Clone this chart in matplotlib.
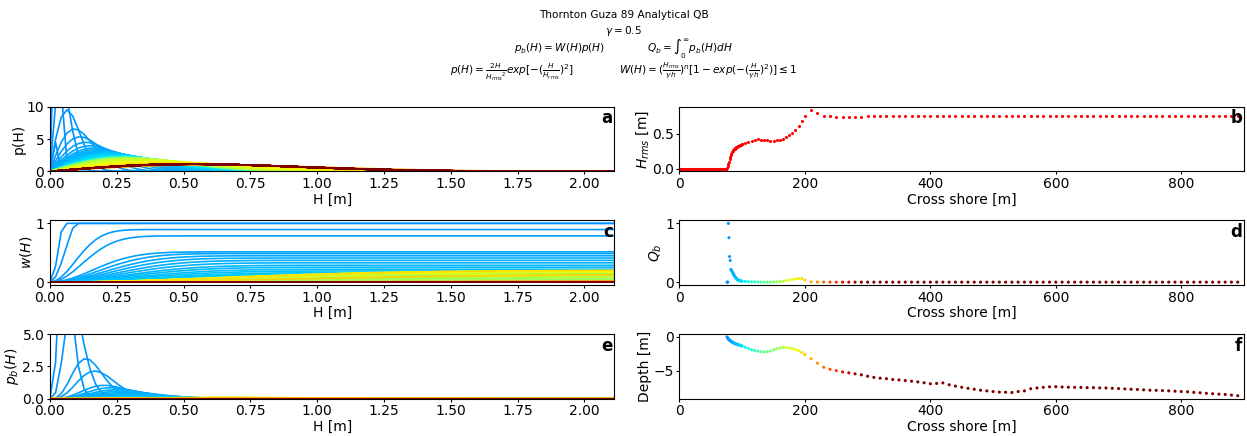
import numpy as np
import matplotlib
matplotlib.use('Agg')
import matplotlib.pyplot as plt
from matplotlib import colors
from matplotlib.ticker import MultipleLocator

gamma = 0.5
n = 4

# dry beach, no waves
x_dry = np.arange(0, 76, 1)
hrms_dry = np.zeros(len(x_dry))

# wet profile: 1 m spacing near the shoreline, 5 m over the bar, 10 m offshore
x_wet = np.concatenate([np.arange(76, 100, 1), np.arange(100, 200, 5), np.arange(200, 900, 10)])

hrms_wet = np.array([
    0.01, 0.03, 0.06, 0.09, 0.13, 0.16, 0.19, 0.215, 0.235, 0.25, 0.265, 0.275,
    0.285, 0.292, 0.30, 0.307, 0.314, 0.32, 0.325, 0.33, 0.335, 0.34, 0.345, 0.35,
    0.355, 0.37, 0.385, 0.40, 0.415, 0.42, 0.417, 0.41, 0.405, 0.40,
    0.40, 0.405, 0.415, 0.43, 0.45, 0.48, 0.51, 0.55, 0.61, 0.68,
    0.75, 0.845, 0.80, 0.76, 0.75, 0.745, 0.745, 0.745, 0.745, 0.745,
    0.75, 0.75, 0.75, 0.75, 0.75, 0.75, 0.75, 0.75, 0.75, 0.75,
    0.752, 0.752, 0.752, 0.752, 0.752, 0.752, 0.752, 0.752, 0.752, 0.752,
    0.755, 0.755, 0.755, 0.755, 0.755, 0.755, 0.755, 0.755, 0.755, 0.755,
    0.758, 0.758, 0.758, 0.758, 0.758, 0.758, 0.758, 0.758, 0.758, 0.758,
    0.758, 0.758, 0.758, 0.758, 0.758, 0.758, 0.758, 0.758, 0.758, 0.758,
    0.758, 0.758, 0.758, 0.758, 0.758, 0.758, 0.758, 0.758, 0.758, 0.758])

depth = np.array([
    -0.02, -0.2, -0.33, -0.42, -0.5, -0.58, -0.65, -0.71, -0.77, -0.83, -0.88, -0.92,
    -0.96, -1.0, -1.04, -1.08, -1.11, -1.14, -1.18, -1.21, -1.24, -1.27, -1.3, -1.33,
    -1.36, -1.55, -1.73, -1.9, -2.03, -2.13, -2.2, -2.23, -2.2, -2.1,
    -1.93, -1.77, -1.65, -1.58, -1.57, -1.63, -1.73, -1.87, -2.06, -2.3,
    -2.62, -3.24, -3.9, -4.5, -4.8, -5.0, -5.2, -5.33, -5.48, -5.63,
    -5.83, -6.0, -6.12, -6.2, -6.32, -6.38, -6.48, -6.57, -6.67, -6.8,
    -6.95, -6.9, -6.82, -7.1, -7.29, -7.47, -7.62, -7.76, -7.9, -8.0,
    -8.1, -8.18, -8.2, -8.24, -8.1, -8.0, -7.68, -7.57, -7.48, -7.4,
    -7.38, -7.43, -7.46, -7.48, -7.48, -7.52, -7.52, -7.56, -7.57, -7.62,
    -7.66, -7.71, -7.76, -7.8, -7.85, -7.9, -7.92, -7.96, -8.0, -8.05,
    -8.1, -8.14, -8.22, -8.28, -8.36, -8.42, -8.48, -8.53, -8.62, -8.72])

qb = np.array([
    0.0, 0.0, 1.0, 0.757, 0.435, 0.37, 0.215, 0.2, 0.18, 0.16, 0.14, 0.12,
    0.10, 0.085, 0.07, 0.058, 0.047, 0.04, 0.034, 0.03, 0.026, 0.023, 0.02, 0.018,
    0.015, 0.011, 0.008, 0.006, 0.004, 0.002, 0.001, 0.0, 0.0, 0.001,
    0.003, 0.006, 0.01, 0.017, 0.025, 0.035, 0.045, 0.053, 0.06, 0.063,
    0.035, 0.005, 0.002, 0.001] + [0.0] * 66)

x_all = np.concatenate([x_dry, x_wet])
hrms_all = np.concatenate([hrms_dry, hrms_wet])


def breaker_ratio(q):
    # (Hrms/gamma h)^2 that gives this Qb: s^3 - q s - q = 0 for n = 4
    if q <= 0:
        return 0.0
    r = np.roots([1.0, 0.0, -q, -q])
    r = r[np.abs(r.imag) < 1e-9].real
    return r[r > 0].max()


plt.rcParams['xtick.major.size'] = 2
plt.rcParams['ytick.major.size'] = 2
plt.rcParams['xtick.major.pad'] = 2
plt.rcParams['ytick.major.pad'] = 2
plt.rcParams['axes.labelpad'] = 1

H = np.linspace(0, 2.5 * hrms_wet.max(), 100)

norm = colors.Normalize(vmin=0, vmax=290, clip=True)
cols = plt.cm.jet(norm(x_wet))

fig, axes = plt.subplots(3, 2, figsize=(12.47, 4.36), dpi=100)
plt.subplots_adjust(left=0.04, right=0.9976, bottom=0.0856, top=0.755, wspace=0.115, hspace=0.757)
ax_a, ax_b = axes[0]
ax_c, ax_d = axes[1]
ax_e, ax_f = axes[2]

for i in range(len(x_wet)):
    hr = hrms_wet[i]
    p = 2 * H / hr ** 2 * np.exp(-(H / hr) ** 2)
    s = breaker_ratio(qb[i])
    W = np.minimum(1.0, s ** (n / 2) * (1 - np.exp(-s * (H / hr) ** 2)))
    ax_a.plot(H, p, color=cols[i], lw=1.2)
    ax_c.plot(H, W, color=cols[i], lw=1.2)
    ax_e.plot(H, W * p, color=cols[i], lw=1.2)

for ax in (ax_a, ax_c, ax_e):
    ax.set_xlim(0, H.max())
    ax.set_xlabel('H [m]')
ax_a.set_ylim(0, 10)
ax_e.set_ylim(0, 5)
ax_c.set_yticks([0, 1])
ax_a.set_ylabel('p(H)')
ax_c.set_ylabel('$w(H)$')
ax_e.set_ylabel('$p_b(H)$')

ax_b.scatter(x_all, hrms_all, s=5, c='red', linewidths=0)
ax_d.scatter(x_wet, qb, s=5, c=cols, linewidths=0)
ax_f.scatter(x_wet, depth, s=5, c=cols, linewidths=0)
for ax in (ax_b, ax_d, ax_f):
    ax.set_xlim(0, 900)
    ax.xaxis.set_major_locator(MultipleLocator(200))
    ax.set_xlabel('Cross shore [m]')
ax_d.set_yticks([0, 1])
ax_b.set_ylabel('$H_{rms}$ [m]')
ax_d.set_ylabel('$Q_b$')
ax_f.set_ylabel('Depth [m]')

for ax, letter in zip([ax_a, ax_b, ax_c, ax_d, ax_e, ax_f], 'abcdef'):
    ax.text(0.997, 0.96, letter, transform=ax.transAxes, ha='right', va='top',
            fontweight='bold', fontsize=12)

# header: title, gamma and the model equations
fs = 7.6
fig.text(0.5, 1 - 15 / 436, 'Thornton Guza 89 Analytical QB', ha='center', va='center', fontsize=fs)
fig.text(0.5, 1 - 31 / 436, r'$\gamma = 0.5$', ha='center', va='center', fontsize=fs)
fig.text(0.5, 1 - 49 / 436,
         r'$p_b(H) = W(H)p(H)$' + ' ' * 13 + r'$Q_b = \int_0^\infty p_b(H)dH$',
         ha='center', va='center', fontsize=fs)
fig.text(0.5, 1 - 72 / 436,
         r'$p(H) = \frac{2H}{{H_{rms}}^2}exp[-(\frac{H}{H_{rms}})^2]$' + ' ' * 14 +
         r'$W(H) = (\frac{H_{rms}}{\gamma h})^n[1-exp(-(\frac{H}{\gamma h})^2)] \leq 1$',
         ha='center', va='center', fontsize=fs)

plt.savefig('out.png', dpi=100)
